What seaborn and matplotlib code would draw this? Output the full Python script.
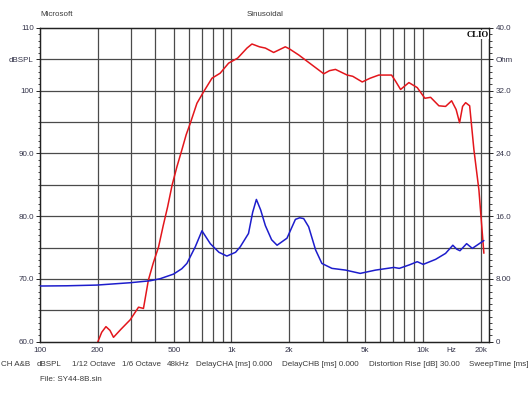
import numpy as np
import pandas as pd
import matplotlib
matplotlib.use("Agg")
import matplotlib.pyplot as plt
import seaborn as sns
from matplotlib.ticker import FixedLocator, MultipleLocator, NullFormatter

# ---------------- data ----------------
spl_freq = [200, 210, 221, 232, 242, 265, 296, 327, 347, 368, 390, 416, 440, 464, 490,
            519, 551, 580, 609, 660, 714, 791, 873, 966, 1077, 1205, 1279, 1400, 1503,
            1660, 1910, 2000, 2245, 2636, 3034, 3250, 3492, 4018, 4298, 4817, 5300, 5879,
            6855, 7200, 7639, 8440, 9333, 10230, 10960, 12110, 13120, 14110, 14900, 15530,
            16100, 16700, 17530, 18450, 19590, 20800]
spl_db = [59.9, 61.5, 62.4, 61.8, 60.7, 62.0, 63.5, 65.5, 65.3, 69.8, 72.5, 75.1, 78.5,
          81.5, 85.0, 87.9, 90.6, 93.0, 94.8, 98.0, 99.8, 102.0, 102.8, 104.4, 105.2,
          106.8, 107.45, 107.0, 106.8, 106.1, 107.0, 106.7, 105.7, 104.1, 102.7, 103.2,
          103.4, 102.5, 102.3, 101.4, 102.0, 102.5, 102.5, 101.5, 100.2, 101.3, 100.5,
          98.8, 98.95, 97.6, 97.5, 98.4, 97.0, 94.9, 97.5, 98.1, 97.6, 90.6, 84.2, 74.1]

imp_freq = [100, 138, 198, 296, 376, 424, 498, 550, 585, 647, 701, 775, 860, 946, 1050,
            1111, 1227, 1290, 1349, 1420, 1503, 1620, 1730, 1949, 2157, 2270, 2382, 2529,
            2750, 2965, 3346, 3943, 4700, 5655, 7050, 7520, 8500, 9333, 10030, 11640,
            13120, 14320, 15000, 15600, 16900, 18100, 20800]
imp_ohm = [7.10, 7.13, 7.22, 7.52, 7.77, 8.03, 8.62, 9.3, 9.98, 12.1, 14.14, 12.5, 11.4,
           10.92, 11.4, 12.1, 13.8, 16.5, 18.14, 16.8, 14.8, 13.0, 12.3, 13.2, 15.6, 15.8,
           15.7, 14.65, 11.7, 9.98, 9.35, 9.13, 8.71, 9.13, 9.47, 9.35, 9.8, 10.2, 9.86,
           10.5, 11.26, 12.3, 11.8, 11.6, 12.5, 11.9, 12.9]

x_tick_vals = [100, 200, 500, 1000, 2000, 5000, 10000, 14000, 20000]
x_tick_labels = ["100", "200", "500", "1k", "2k", "5k", "10k", "Hz", "20k"]
left_tick_vals = [60, 70, 80, 90, 100, 105, 110]
left_tick_labels = ["60.0", "70.0", "80.0", "90.0", "100", "dBSPL", "110"]
right_tick_vals = [0, 8, 16, 24, 32, 36, 40]
right_tick_labels = ["0", "8.00", "16.0", "24.0", "32.0", "Ohm", "40.0"]
grid_freqs = [200, 300, 400, 500, 600, 700, 800, 900, 1000, 2000, 3000, 4000, 5000,
              6000, 7000, 8000, 9000, 10000, 20000]

footer_items = ["CH A&B", "dBSPL", "1/12 Octave", "1/6 Octave", "48kHz",
                "DelayCHA [ms] 0.000", "DelayCHB [ms] 0.000",
                "Distortion Rise [dB] 30.00", "SweepTime [ms]"]
footer_x = [1, 37, 72.5, 122.5, 166.5, 196.5, 282, 369, 469]

# ---------------- style ----------------
sns.set_style("white")
plt.rcParams["font.family"] = ["Liberation Sans", "DejaVu Sans"]
FS = 5.8
TXT = "#3a3a3a"
LBL = "#34344a"
GRID = "#4a4a4a"

W, H = 530, 398
fig = plt.figure(figsize=(W / 100, H / 100), dpi=100)
fig.patch.set_facecolor("white")
ax = fig.add_axes([40 / W, 1 - 341.7 / H, (489.3 - 40) / W, (341.7 - 28) / H])
ax.set_facecolor("white")

spl_df = pd.DataFrame({"f": spl_freq, "db": spl_db})
imp_df = pd.DataFrame({"f": imp_freq, "ohm": imp_ohm})

ax.set_xscale("log")
ax.set_xlim(100, 22200)
ax.set_ylim(60, 110)

# grid
for g in grid_freqs:
    ax.axvline(g, color=GRID, lw=0.9, zorder=1)
for yv in np.arange(65, 110, 5):
    ax.axhline(yv, color=GRID, lw=0.9, zorder=1)

sns.lineplot(data=spl_df, x="f", y="db", ax=ax, color="#e3161c", lw=1.1,
             estimator=None, sort=False, zorder=3, legend=False)

ax2 = ax.twinx()
ax2.set_ylim(0, 40)
sns.lineplot(data=imp_df, x="f", y="ohm", ax=ax2, color="#1d1dcc", lw=1.1,
             estimator=None, sort=False, zorder=3, legend=False)
ax2.set_xscale("log")
ax2.set_xlim(100, 22200)

for a in (ax, ax2):
    a.set_xlabel("")
    a.set_ylabel("")
    for s in a.spines.values():
        s.set_color("#222222")
        s.set_linewidth(0.9)

ax.xaxis.set_major_locator(FixedLocator(x_tick_vals))
ax.set_xticklabels(x_tick_labels)
ax.xaxis.set_minor_formatter(NullFormatter())
ax.xaxis.set_minor_locator(FixedLocator([]))
ax.tick_params(axis="x", which="both", length=0, pad=4, labelsize=FS, labelcolor=LBL)

ax.yaxis.set_major_locator(FixedLocator(left_tick_vals))
ax.set_yticklabels(left_tick_labels)
ax.yaxis.set_minor_locator(MultipleLocator(1))
ax.tick_params(axis="y", which="major", left=True, length=3, width=0.7, pad=1.5,
               labelsize=FS, labelcolor=LBL, color="#222222")
ax.tick_params(axis="y", which="minor", left=True, length=1.8, width=0.6, color="#222222")

ax2.yaxis.set_major_locator(FixedLocator(right_tick_vals))
ax2.set_yticklabels(right_tick_labels)
ax2.yaxis.set_minor_locator(MultipleLocator(0.8))
ax2.tick_params(axis="y", which="major", right=True, length=3, width=0.7, pad=1.5,
                labelsize=FS, labelcolor=LBL, color="#222222")
ax2.tick_params(axis="y", which="minor", right=True, length=1.8, width=0.6, color="#222222")
ax2.tick_params(axis="x", which="both", length=0, labelbottom=False)

# texts
fig.text(40 / W, 1 - 14.5 / H, "Microsoft", fontsize=FS, color=TXT, ha="left", va="center")
fig.text(265.5 / W, 1 - 14.5 / H, "Sinusoidal", fontsize=FS, color=TXT, ha="center", va="center")
ax2.text(0.998, 0.992, "CLIO", transform=ax2.transAxes, ha="right", va="top",
         fontsize=6.3, fontweight="bold", family=["Liberation Serif", "DejaVu Serif"],
         color="black", zorder=5,
         bbox=dict(facecolor="white", edgecolor="none", pad=0.3))
for txt, xp in zip(footer_items, footer_x):
    fig.text(xp / W, 1 - 365 / H, txt, fontsize=FS, color=TXT, ha="left", va="center")
fig.text(40 / W, 1 - 379.5 / H, "File: SY44-8B.sin", fontsize=FS, color=TXT,
         ha="left", va="center")

fig.savefig("out.png", dpi=100, facecolor="white")
